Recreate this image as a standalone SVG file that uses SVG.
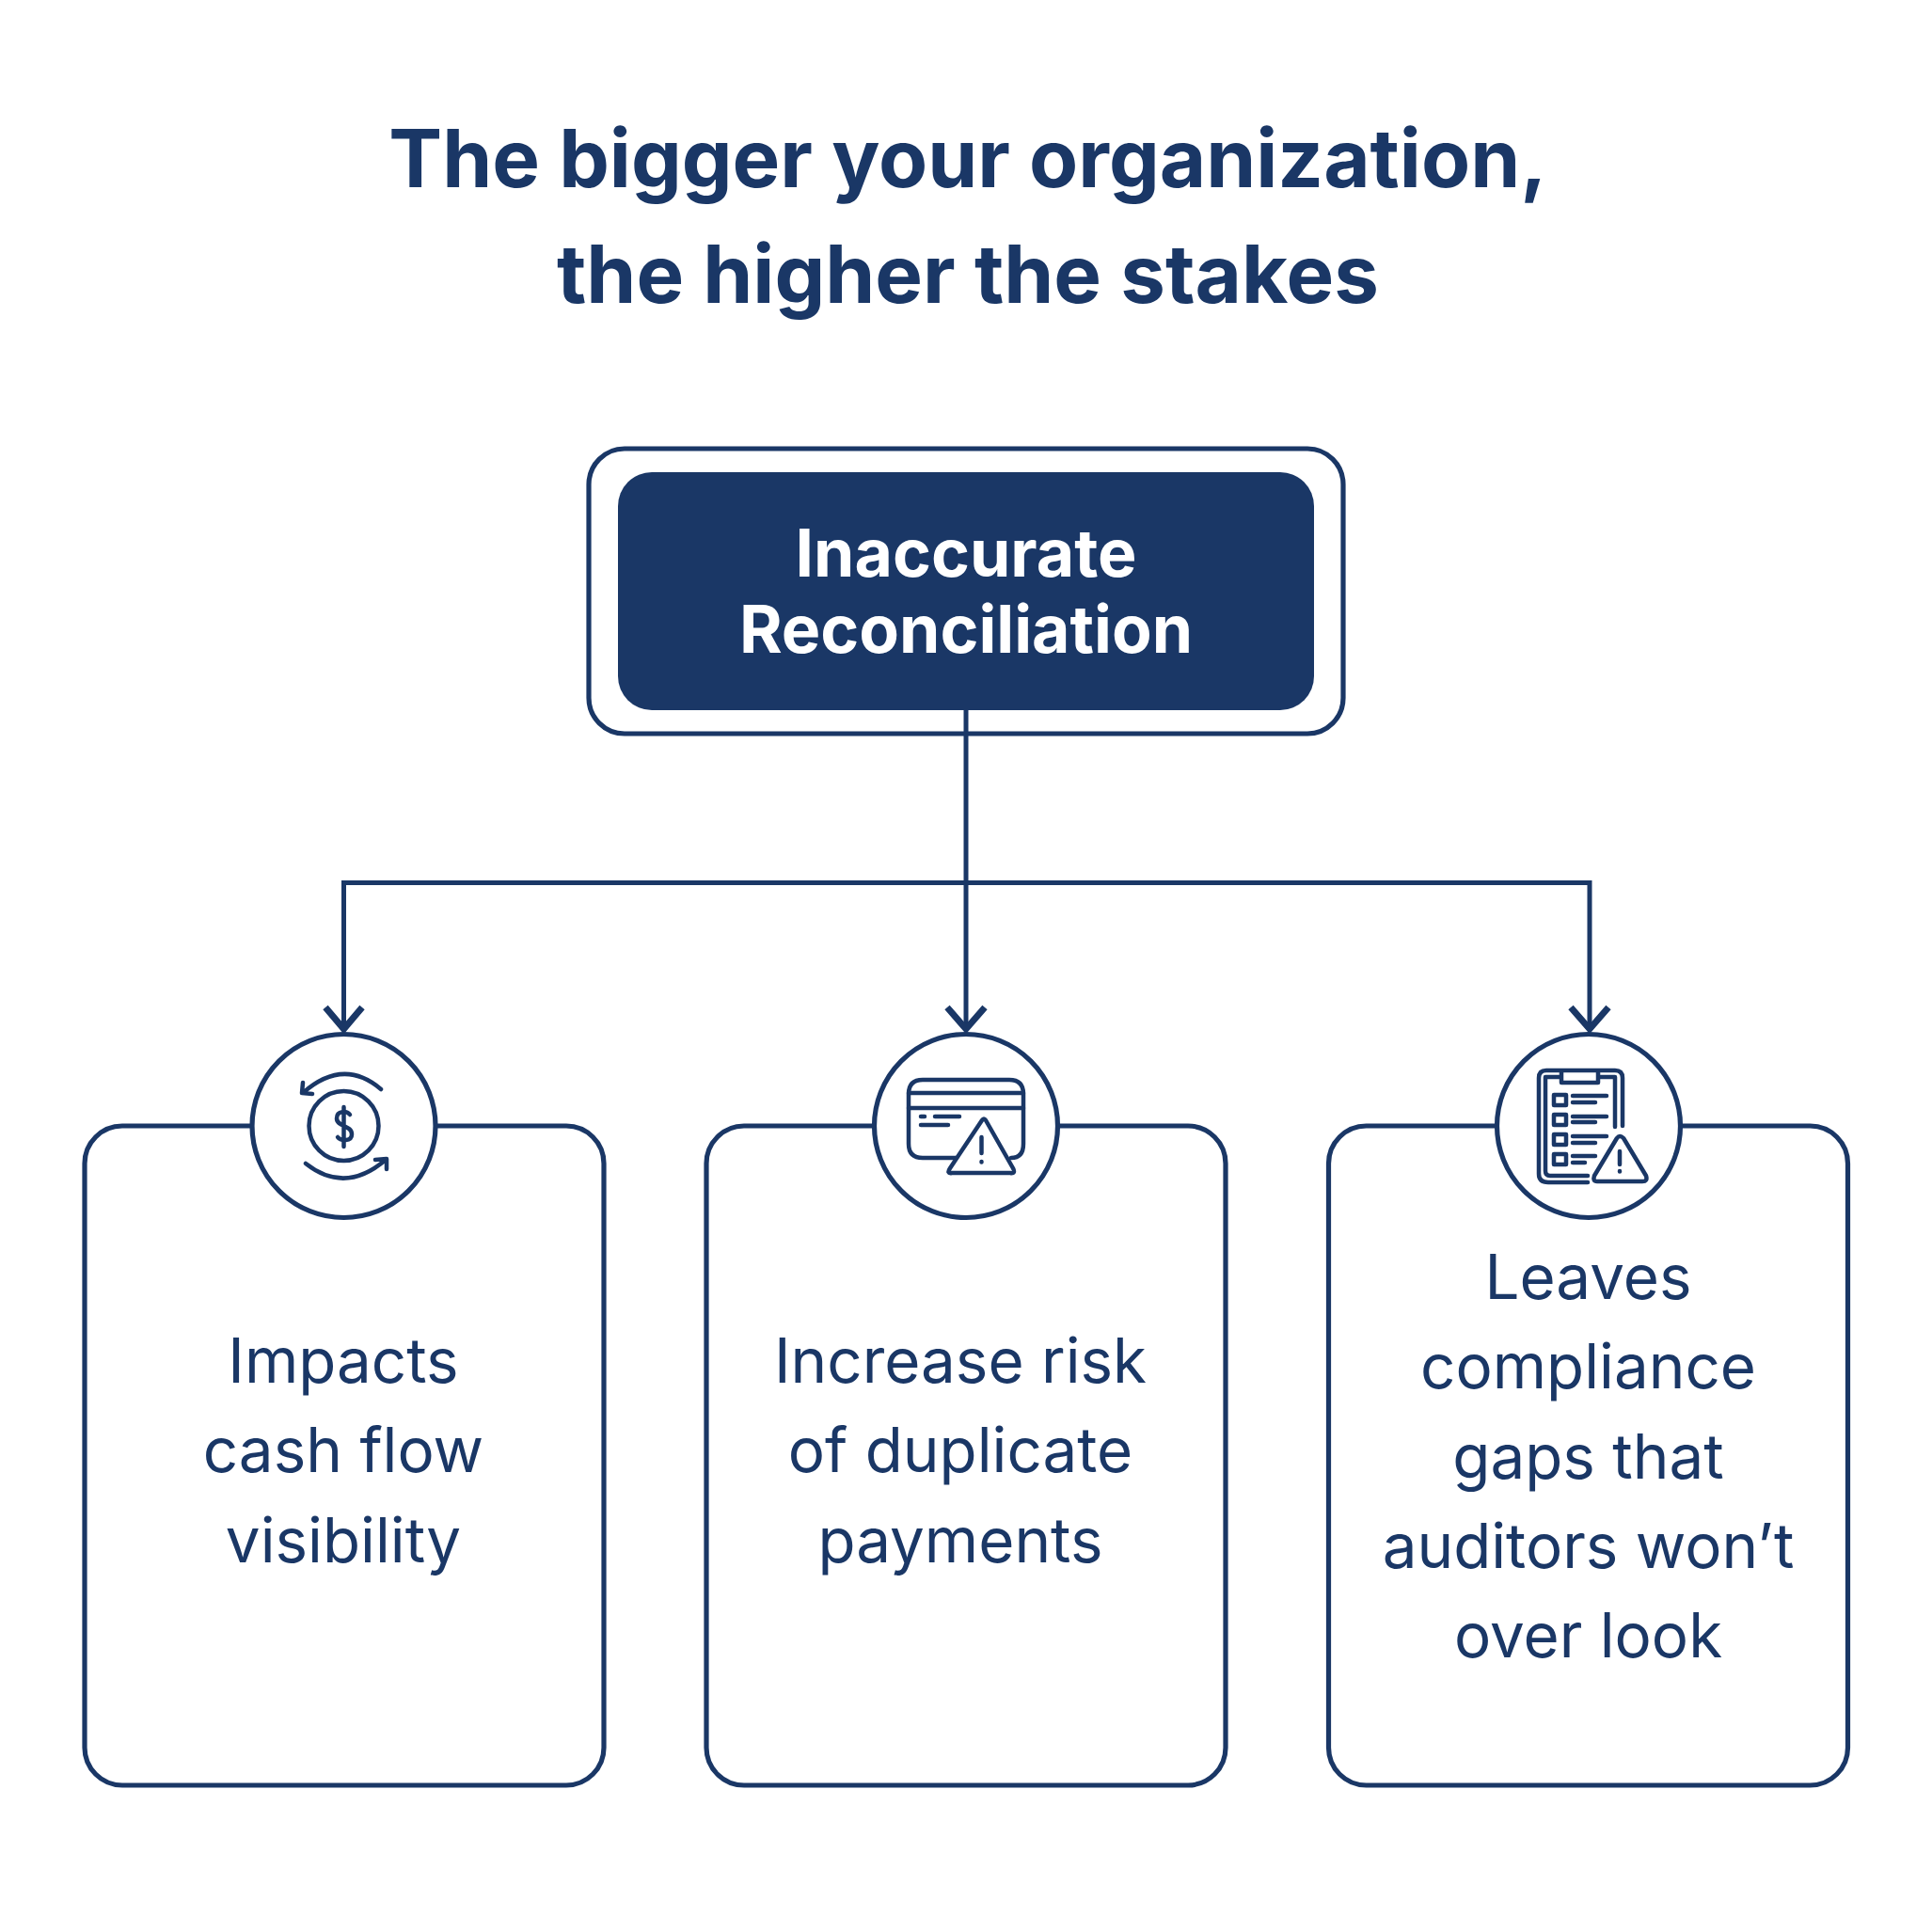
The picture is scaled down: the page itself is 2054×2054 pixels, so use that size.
<svg xmlns="http://www.w3.org/2000/svg" width="2054" height="2054" viewBox="0 0 2054 2054">
<style>
text{font-family:Inter,"Liberation Sans",sans-serif;text-anchor:middle}
.t{font-size:85.200px;font-weight:700;fill:#1a3766}
.h{font-size:69.700px;font-weight:700;fill:#fff}
.b{font-size:65.500px;font-weight:400;fill:#1a3766}
.s{fill:none;stroke:#1a3766;stroke-width:5.200}
.i{fill:none;stroke:#1a3766;stroke-width:4.500;stroke-linecap:round;stroke-linejoin:round}
.a{fill:none;stroke:#1a3766;stroke-width:5}
.h2{fill:none;stroke:#1a3766;stroke-width:7}
</style>
<rect width="2054" height="2054" fill="#fff"/>
<g id="title"><text class="t" x="1029" y="199">The bigger your organization,</text><text class="t" x="1029" y="322">the higher the stakes</text></g>
<g id="connectors">
<path class="a" d="M1027 755V1095M365.500 1095V938.500H1690V1095"/>
<path class="h2" d="M346 1071L365.500 1094L385 1071M1007 1071L1027 1094L1047 1071M1670 1071L1690 1094L1710 1071"/>
</g>
<g id="root"><rect class="s" x="626" y="477" width="802" height="303" rx="38"/><rect x="657" y="502" width="740" height="253" rx="36" fill="#1a3766"/><text class="h" x="1027" y="613">Inaccurate</text><text class="h" x="1027" y="694">Reconciliation</text></g>
<g id="card1"><rect class="s" x="90" y="1197" width="552" height="701" rx="40"/><circle cx="365.500" cy="1197" r="97.500" fill="#fff" stroke="#1a3766" stroke-width="5.200"/>
<g class="i"><circle cx="365.500" cy="1197" r="37"/><path d="M405 1158Q365 1124 322 1162M322 1151L321 1162L332 1163M325 1237Q367 1270 410 1233M411 1243L411 1232L399 1233"/><path d="M372 1185C369 1181 358 1180 358 1189C358 1198 374 1196 374 1206C374 1214 362 1213 359 1209M365.500 1177V1219"/></g>
<text class="b" x="365" y="1470">Impacts</text><text class="b" x="365" y="1565">cash flow</text><text class="b" x="365" y="1661">visibility</text></g>
<g id="card2"><rect class="s" x="751" y="1197" width="552" height="701" rx="40"/><circle cx="1027" cy="1197" r="97.500" fill="#fff" stroke="#1a3766" stroke-width="5.200"/>
<g class="i"><path d="M1016 1231H981Q966 1231 966 1216V1163Q966 1148 981 1148H1073Q1088 1148 1088 1163V1216Q1088 1231 1075 1231"/><path d="M966 1162H1088M966 1178H1088M979 1187H983M994 1187H1020M979 1196H1008"/><path d="M1044 1191L1010 1242Q1006 1248 1012 1247H1074Q1080 1248 1077 1242L1048 1191Q1046 1188 1044 1191ZM1043.500 1209V1226M1043.500 1235V1235.500"/></g>
<text class="b" x="1021" y="1470">Increase risk</text><text class="b" x="1021" y="1565">of duplicate</text><text class="b" x="1021" y="1661">payments</text></g>
<g id="card3"><rect class="s" x="1412.500" y="1197" width="552" height="701" rx="40"/><circle cx="1689" cy="1197" r="97.500" fill="#fff" stroke="#1a3766" stroke-width="5.200"/>
<g class="i"><path d="M1688 1257H1646Q1636 1257 1636 1248V1146Q1636 1138 1644 1138H1717Q1725 1138 1725 1146V1197"/><path d="M1688 1250H1648Q1643 1250 1643 1245V1145H1660M1701 1145H1717V1198M1660 1140V1151H1699V1140"/><rect x="1652" y="1164" width="13" height="11"/><rect x="1652" y="1185" width="13" height="11"/><rect x="1652" y="1206" width="13" height="11"/><rect x="1652" y="1227" width="13" height="11"/><path d="M1672 1165H1708M1672 1172H1696M1672 1187H1708M1672 1193H1696M1672 1208H1708M1672 1215H1696M1672 1229H1696M1672 1236H1685"/><path d="M1719 1210L1695 1250Q1693 1256 1698 1256H1746Q1752 1256 1750 1250L1726 1210Q1722 1206 1719 1210ZM1722 1224V1238M1722 1245V1245.500"/></g>
<text class="b" x="1688.500" y="1381">Leaves</text><text class="b" x="1688.500" y="1476">compliance</text><text class="b" x="1688.500" y="1572">gaps that</text><text class="b" x="1688.500" y="1667">auditors won’t</text><text class="b" x="1688.500" y="1762">over look</text></g>
</svg>
